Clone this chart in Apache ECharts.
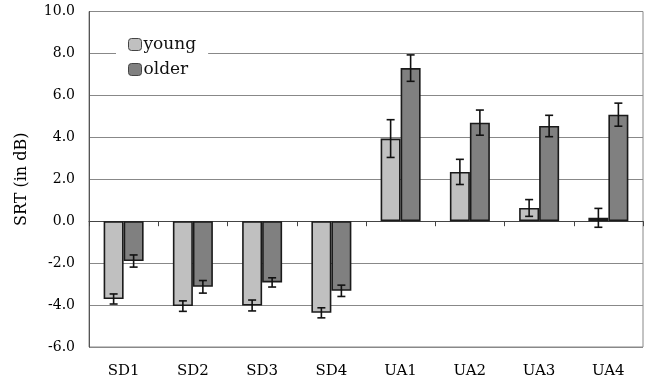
<!DOCTYPE html>
<html>
<head>
<meta charset="utf-8">
<script src="https://cdn.jsdelivr.net/npm/echarts@6/dist/echarts.min.js"></script>
<style>html,body{margin:0;padding:0;background:#fff;}#c{width:646px;height:383px;}</style>
</head>
<body>
<div id="c"></div>
<script>
const categories = ['SD1','SD2','SD3','SD4','UA1','UA2','UA3','UA4'];
const youngValues = [-3.71, -4.05, -4.02, -4.37, 3.94, 2.35, 0.63, 0.16];
const youngErrors = [0.24, 0.25, 0.26, 0.24, 0.90, 0.60, 0.40, 0.45];
const olderValues = [-1.90, -3.13, -2.92, -3.32, 7.30, 4.70, 4.54, 5.08];
const olderErrors = [0.29, 0.30, 0.22, 0.27, 0.63, 0.60, 0.51, 0.55];
const yTicks = { min: -6, max: 10, interval: 2 };

const FONT = 'DejaVu Serif';
const BAR_W = 20;

function errSeries(values, errors, side) {
  return {
    type: 'custom',
    z: 10,
    data: values.map((v, i) => [i, v, errors[i]]),
    renderItem: function (params, api) {
      const i = api.value(0), v = api.value(1), e = api.value(2);
      const top = api.coord([i, v + e]);
      const bot = api.coord([i, v - e]);
      const x = top[0] + side * BAR_W / 2;
      const cap = 4;
      const st = { stroke: '#111', lineWidth: 1.6 };
      return {
        type: 'group',
        children: [
          { type: 'line', shape: { x1: x, y1: top[1], x2: x, y2: bot[1] }, style: st },
          { type: 'line', shape: { x1: x - cap, y1: top[1], x2: x + cap, y2: top[1] }, style: st },
          { type: 'line', shape: { x1: x - cap, y1: bot[1], x2: x + cap, y2: bot[1] }, style: st }
        ]
      };
    }
  };
}

const chart = echarts.init(document.getElementById('c'), null, { renderer: 'canvas' });
chart.setOption({
  animation: false,
  backgroundColor: '#fff',
  textStyle: { fontFamily: FONT },
  grid: { left: 89, right: 3, top: 11.5, bottom: 36, show: true, borderColor: '#888', borderWidth: 1, backgroundColor: 'transparent' },
  legend: {
    orient: 'vertical',
    left: 116, top: 32,
    padding: [4, 12, 4, 12],
    backgroundColor: '#fff',
    itemWidth: 13, itemHeight: 12, itemGap: 8,
    textStyle: { fontFamily: FONT, fontSize: 17, lineHeight: 15, color: '#111', padding: [0, 0, 0, -3] },
    data: [
      { name: 'young', itemStyle: { color: '#c0c0c0', borderColor: '#444', borderWidth: 1 } },
      { name: 'older', itemStyle: { color: '#808080', borderColor: '#444', borderWidth: 1 } }
    ]
  },
  xAxis: [
    {
      type: 'category', data: categories,
      axisLine: { show: false, onZero: false },
      axisTick: { show: false },
      axisLabel: { fontFamily: FONT, fontSize: 15, color: '#000', margin: 17 },
      splitLine: { show: false }
    },
    {
      type: 'category', data: categories, position: 'bottom',
      axisLine: { show: true, onZero: true, lineStyle: { color: '#444', width: 1 } },
      axisTick: { show: true, length: 5, lineStyle: { color: '#444' } },
      axisLabel: { show: false },
      splitLine: { show: false }
    }
  ],
  yAxis: {
    type: 'value', min: yTicks.min, max: yTicks.max, interval: yTicks.interval,
    name: 'SRT (in dB)', nameLocation: 'middle', nameGap: 59,
    nameTextStyle: { fontFamily: FONT, fontSize: 16, color: '#000' },
    axisLine: { show: true, lineStyle: { color: '#555', width: 1 } },
    axisTick: { show: false },
    axisLabel: { fontFamily: FONT, fontSize: 14, color: '#000', margin: 14, formatter: v => v.toFixed(1) },
    splitLine: { show: true, lineStyle: { color: '#888', width: 1 } }
  },
  series: [
    { name: 'young', type: 'bar', data: youngValues, barWidth: BAR_W, barGap: '0%',
      itemStyle: { color: '#c0c0c0', borderColor: '#1a1a1a', borderWidth: 1.6 } },
    { name: 'older', type: 'bar', data: olderValues, barWidth: BAR_W, barGap: '0%',
      itemStyle: { color: '#808080', borderColor: '#1a1a1a', borderWidth: 1.6 } },
    errSeries(youngValues, youngErrors, -1),
    errSeries(olderValues, olderErrors, 1)
  ]
});
</script>
</body>
</html>
